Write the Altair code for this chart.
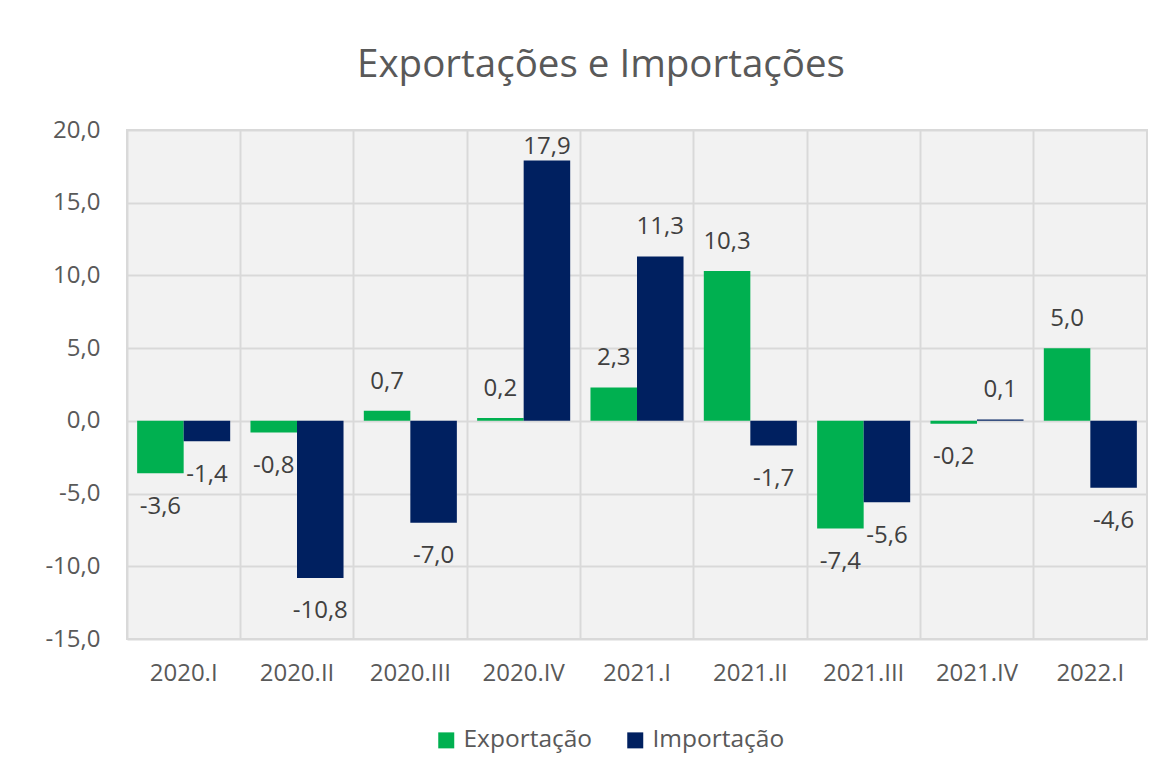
import altair as alt
import pandas as pd

categories = ["2020.I", "2020.II", "2020.III", "2020.IV", "2021.I",
              "2021.II", "2021.III", "2021.IV", "2022.I"]
exportacao = [-3.6, -0.8, 0.7, 0.2, 2.3, 10.3, -7.4, -0.2, 5.0]
importacao = [-1.4, -10.8, -7.0, 17.9, 11.3, -1.7, -5.6, 0.1, -4.6]
series = ["Exportação", "Importação"]
colors = ["#00B050", "#002060"]
y_ticks = [-15, -10, -5, 0, 5, 10, 15, 20]

rows = []
for s, vals in zip(series, [exportacao, importacao]):
    for c, v in zip(categories, vals):
        rows.append({"cat": c, "serie": s, "v": v,
                     "label": f"{v:.1f}".replace(".", ",")})
df = pd.DataFrame(rows)

FONT = "Open Sans"
W, H = 1020, 509

x = alt.X("cat:N", sort=categories,
          scale=alt.Scale(paddingInner=0, paddingOuter=0),
          axis=alt.Axis(title=None, bandPosition=0,
                        grid=True, gridColor="#d9d9d9", gridWidth=2,
                        ticks=False, domain=False, labelAngle=0,
                        labelFontSize=24, labelColor="#595959",
                        labelPadding=22, labelFont=FONT))
xo = alt.XOffset("serie:N", sort=series,
                 scale=alt.Scale(paddingInner=0, paddingOuter=0.218))
yscale = alt.Scale(domain=[-15, 20], nice=False, zero=False)

bars = alt.Chart(df).mark_bar().encode(
    x=x,
    xOffset=xo,
    y=alt.Y("v:Q", scale=yscale,
            axis=alt.Axis(title=None, values=y_ticks, ticks=False, domain=False,
                          grid=True, gridColor="#d9d9d9", gridWidth=2,
                          labelExpr="replace(replace(format(datum.value, '.1f'), '.', ','), '\u2212', '-')",
                          labelFontSize=24, labelColor="#595959",
                          labelPadding=27, labelFont=FONT)),
    color=alt.Color("serie:N", scale=alt.Scale(domain=series, range=colors),
                    legend=alt.Legend(orient="none", legendX=307, legendY=598,
                                      direction="horizontal", title=None,
                                      symbolType="square", symbolSize=256,
                                      symbolStrokeWidth=0, labelFontSize=24.5,
                                      labelColor="#595959", labelFont=FONT,
                                      columnPadding=30, labelOffset=5,
                                      padding=0)),
)

labels = alt.Chart(df).transform_calculate(
    ly="datum.v >= 0 ? min(datum.v + 2.0, 18.8) : datum.v - 2.3"
).mark_text(fontSize=24, color="#404040", font=FONT, baseline="middle").encode(
    x=alt.X("cat:N", sort=categories),
    xOffset=alt.XOffset("serie:N", sort=series),
    y=alt.Y("ly:Q", scale=yscale),
    text="label:N",
)

chart = alt.layer(bars, labels).properties(
    width=W, height=H,
    title=alt.TitleParams("Exportações e Importações", fontSize=38.5,
                          color="#595959", font=FONT, fontWeight="normal",
                          anchor="middle", dx=-36, offset=33),
    autosize=alt.AutoSizeParams(type="none"),
    padding={"left": 119, "top": 122, "right": 6, "bottom": 135},
).configure(
    font=FONT, background="white"
).configure_view(stroke="#d9d9d9", strokeWidth=2, fill="#f2f2f2")

chart.save("out.html", embed_options={"renderer": "svg", "actions": False})
